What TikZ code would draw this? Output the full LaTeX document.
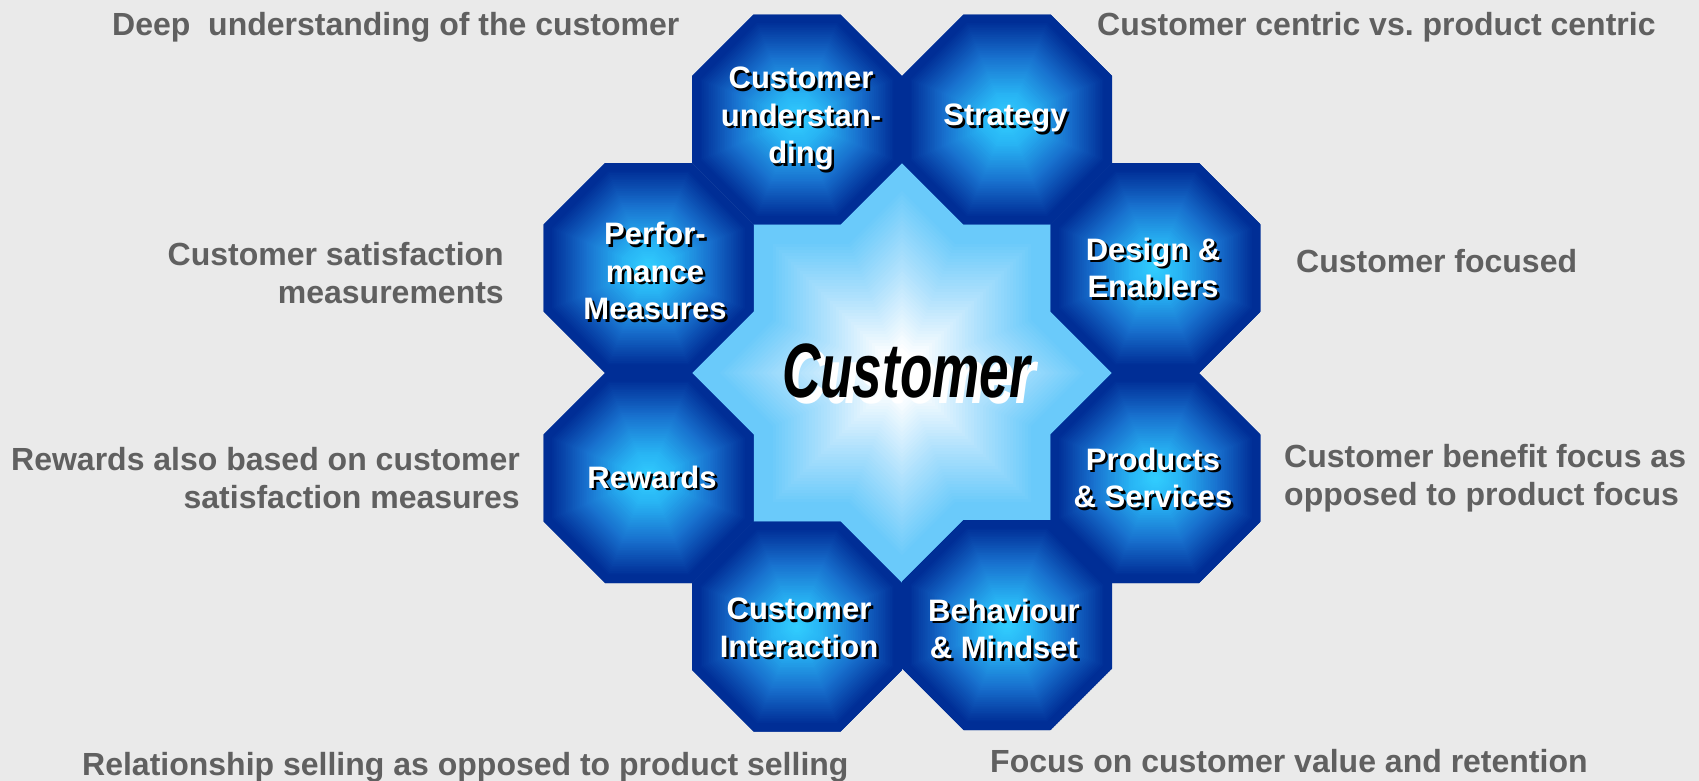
\documentclass[tikz,border=0pt]{standalone}
\usepackage{fontspec}
\setmainfont{Liberation Sans}
\newfontfamily\centrefont[FakeStretch=0.69]{Liberation Sans}
\usetikzlibrary{shapes.geometric}

\definecolor{bggray}{RGB}{234,234,234}
\definecolor{notegray}{RGB}{96,96,96}
\definecolor{octcore}{RGB}{50,207,255}
\definecolor{octmidA}{RGB}{40,180,244}
\definecolor{octmidB}{RGB}{24,112,206}
\definecolor{octrim}{RGB}{0,46,150}
\definecolor{starcore}{RGB}{255,255,255}
\definecolor{starmid}{RGB}{178,226,253}
\definecolor{starrim}{RGB}{106,202,250}

% colour of one ring of the octagon fill, #1 = scale from centre (0) to rim (1)
\newcommand\octlayercolour[1]{%
  \pgfmathsetmacro\octfrac{#1}%
  \ifdim\octfrac pt>0.93pt \colorlet{layercol}{octrim}%
  \else\ifdim\octfrac pt>0.6pt
    \pgfmathtruncatemacro\octmix{(\octfrac-0.6)/0.33*100}\colorlet{layercol}{octrim!\octmix!octmidB}%
  \else\ifdim\octfrac pt>0.24pt
    \pgfmathtruncatemacro\octmix{(\octfrac-0.24)/0.36*100}\colorlet{layercol}{octmidB!\octmix!octmidA}%
  \else
    \pgfmathtruncatemacro\octmix{\octfrac/0.24*100}\colorlet{layercol}{octmidA!\octmix!octcore}%
  \fi\fi\fi}

% colour of one ring of the star fill
\newcommand\starlayercolour[1]{%
  \pgfmathsetmacro\starfrac{#1}%
  \ifdim\starfrac pt>0.88pt \colorlet{layercol}{starrim}%
  \else\ifdim\starfrac pt>0.5pt
    \pgfmathtruncatemacro\starmix{(\starfrac-0.5)/0.38*100}\colorlet{layercol}{starrim!\starmix!starmid}%
  \else\ifdim\starfrac pt>0.12pt
    \pgfmathtruncatemacro\starmix{(\starfrac-0.12)/0.38*100}\colorlet{layercol}{starmid!\starmix!starcore}%
  \else \colorlet{layercol}{starcore}%
  \fi\fi\fi}

% octagonal gradient: nested octagons from rim to centre
\newcommand\octlayers{%
  \foreach \lay in {0,...,59}{%
    \pgfmathsetmacro\layscale{1-\lay/60}%
    \pgfmathsetmacro\layr{114*\layscale}%
    \octlayercolour{\layscale}%
    \fill[layercol, shift={(path picture bounding box.center)}]
      (22.5:\layr) -- (67.5:\layr) -- (112.5:\layr) -- (157.5:\layr)
      -- (202.5:\layr) -- (247.5:\layr) -- (292.5:\layr) -- (337.5:\layr) -- cycle;
  }}

\tikzset{
  octagon/.style={regular polygon, regular polygon sides=8,
    minimum size=227.3pt, inner sep=0pt, outer sep=0pt, draw=none, fill=octrim,
    path picture={\octlayers}},
  octlabel/.style={text=white, font=\fontsize{31}{37.5}\selectfont\bfseries,
    align=center, inner sep=0pt},
  octshadow/.style={octlabel, text=black},
  note/.style={text=notegray, font=\fontsize{32}{37.5}\selectfont\bfseries, inner sep=0pt},
  corefont/.style={font=\centrefont\fontsize{77}{80}\selectfont\bfseries\itshape,
    inner sep=0pt, anchor=base},
}

% white label with a dark drop shadow
\newcommand\shadowedlabel[3]{%
  \node[octshadow, xshift=2.5pt, yshift=-2.5pt] (#1-shadow) at #2 {#3};
  \node[octlabel] (#1) at #2 {#3};}

\begin{document}
\begin{tikzpicture}[x=1pt,y=-1pt]
\useasboundingbox (0,0) rectangle (1699,781);
\fill[bggray] (0,0) rectangle (1699,781);

% eight-pointed star in the middle of the ring, filled with nested stars
\foreach \lay in {0,...,49}{%
  \pgfmathsetmacro\layscale{1-\lay/50}%
  \starlayercolour{\layscale}%
  \fill[layercol, shift={(902,373)}, scale=\layscale]
    (0,-212) -- (62,-150) -- (150,-150) -- (150,-62) -- (212,0) -- (150,62)
    -- (150,150) -- (62,150) -- (0,212) -- (-62,150) -- (-150,150) -- (-150,62)
    -- (-212,0) -- (-150,-62) -- (-150,-150) -- (-62,-150) -- cycle;
}

% ring of eight octagons
\node[octagon] (cu)   at (797,119.5) {};
\node[octagon] (st)   at (1007,119.5) {};
\node[octagon] (de)   at (1155.5,268) {};
\node[octagon] (ps)   at (1155.5,478) {};
\node[octagon] (bm)   at (1007,625) {};
\node[octagon] (ci)   at (797,626.5) {};
\node[octagon] (rw)   at (648.5,478) {};
\node[octagon] (pm)   at (648.5,268) {};

\shadowedlabel{cu-text}{(801,118.5)}{Customer\\understan-\\ding}
\shadowedlabel{st-text}{(1005.5,118)}{Strategy}
\shadowedlabel{de-text}{(1153,268)}{Design \&\\Enablers}
\shadowedlabel{ps-text}{(1153,478)}{Products\\\& Services}
\shadowedlabel{bm-text}{(1004,629)}{Behaviour\\\& Mindset}
\shadowedlabel{ci-text}{(799,628)}{Customer\\Interaction}
\shadowedlabel{rw-text}{(652,477)}{Rewards}
\shadowedlabel{pm-text}{(655,271)}{Perfor-\\mance\\Measures}

% centre word
\node[corefont, text=white] (core-shadow) at (912,403) {Customer};
\node[corefont, text=black] (core) at (906,397) {Customer};

% notes around the ring (base = baseline of the last line)
\node[note, anchor=base west] (n-cu) at (112,36) {Deep\ \ understanding of the customer};
\node[note, anchor=base west] (n-st) at (1097,36) {Customer centric vs.\ product centric};
\node[note, anchor=base east, align=right] (n-pm) at (504,303) {Customer satisfaction\\measurements};
\node[note, anchor=base west] (n-de) at (1296,272) {Customer focused};
\node[note, anchor=base east, align=right] (n-rw) at (520,508) {Rewards also based on customer\\satisfaction measures};
\node[note, anchor=base west, align=left] (n-ps) at (1284,505) {Customer benefit focus as\\opposed to product focus};
\node[note, anchor=base west] (n-ci) at (82,775) {Relationship selling as opposed to product selling};
\node[note, anchor=base west] (n-bm) at (990,772) {Focus on customer value and retention};
\end{tikzpicture}
\end{document}
